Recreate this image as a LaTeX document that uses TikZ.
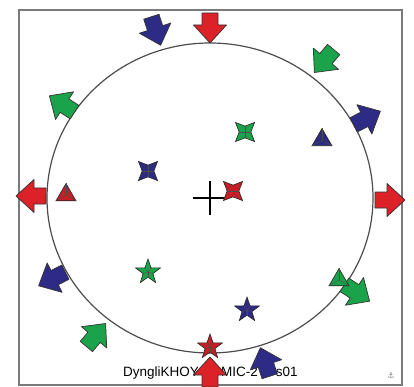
\documentclass[tikz,border=0pt]{standalone}
\usepackage{fontspec}
\setmainfont{Liberation Sans}
\newfontfamily\symfont{DejaVu Sans}
\usetikzlibrary{shapes.geometric}
\definecolor{redx}{HTML}{DC2129}
\definecolor{bluex}{HTML}{2D2B85}
\definecolor{greenx}{HTML}{1AA34A}
\definecolor{framex}{HTML}{7A7A7A}
\tikzset{
  arr/.style={draw=black!80,line width=0.7pt,line join=round},
  mk/.style={draw=black!85,line width=0.6pt,inner sep=0pt},
  inl/.style={black!70,line width=0.4pt},
  fourstar/.style={mk,star,star points=4,star point ratio=2.3,minimum size=27pt,shape border rotate=45},
  fivestar/.style={mk,star,star points=5,star point ratio=2.5,minimum size=26pt},
  tri/.style={mk,regular polygon,regular polygon sides=3,minimum size=23pt}
}
% block arrow: colour, centre x, centre y, direction
\newcommand{\farrow}[4]{%
  \draw[arr,fill=#1,shift={(#2,#3)},rotate=#4]
    (-15,-8)--(-3,-8)--(-3,-16.5)--(15,0)--(-3,16.5)--(-3,8)--(-15,8)--cycle;}
% markers: name, colour, x, y
\newcommand{\fourmark}[4]{%
  \node[fourstar,fill=#2] (#1) at (#3,#4) {};
  \foreach \k in {1,...,4} \draw[inl] (#1.center)--(#1.inner point \k);}
\newcommand{\fivemark}[4]{%
  \node[fivestar,fill=#2] (#1) at (#3,#4) {};
  \foreach \k in {1,...,5} \draw[inl] (#1.center)--(#1.inner point \k);}
\newcommand{\trimark}[4]{%
  \node[tri,fill=#2] (#1) at (#3,#4) {};
  \foreach \k in {1,2,3} \draw[inl] (#1.center)--(#1.corner \k);}

\begin{document}
\begin{tikzpicture}[x=1pt,y=-1pt]
\useasboundingbox (0,0) rectangle (414,387);
\draw[framex,line width=1.5pt] (19,10) rectangle (402,385);
\draw[black!70,line width=1.2pt] (210,198) ellipse [x radius=163pt,y radius=155pt];
\draw[line width=1.6pt] (193,198)--(227,198) (210,181)--(210,215);
\node[font=\fontsize{13.5}{15}\selectfont,anchor=base west,inner sep=0pt] (tag) at (123,376)
  {DyngliKHOY-\hspace{19pt}MIC-2\hspace{18pt}s01};
\node[text=gray,font=\symfont\fontsize{8}{8}\selectfont,inner sep=0pt] (logo) at (391,376) {⚓};
% red
\farrow{redx}{210}{28}{-90}
\farrow{redx}{210}{372}{90}
\farrow{redx}{31}{196}{180}
\farrow{redx}{390}{200}{0}
% blue
\farrow{bluex}{156}{31}{-72}
\farrow{bluex}{265}{362}{108}
\farrow{bluex}{367}{118}{27}
\farrow{bluex}{52}{279}{207}
% green
\farrow{greenx}{324}{61}{230}
\farrow{greenx}{96}{335}{50}
\farrow{greenx}{62}{104}{147}
\farrow{greenx}{357}{293}{-33}
% markers
\fourmark{g4}{greenx}{245}{132}
\fourmark{b4}{bluex}{148}{171}
\fourmark{r4}{redx!90!black}{233}{191}
\fivemark{g5}{greenx}{148}{272}
\fivemark{b5}{bluex}{247}{310}
\fivemark{r5}{redx!90!black}{210}{347}
\trimark{rt}{redx!90!black}{66}{195}
\trimark{bt}{bluex}{322}{140}
\trimark{gt}{greenx}{339}{280}
\end{tikzpicture}
\end{document}
